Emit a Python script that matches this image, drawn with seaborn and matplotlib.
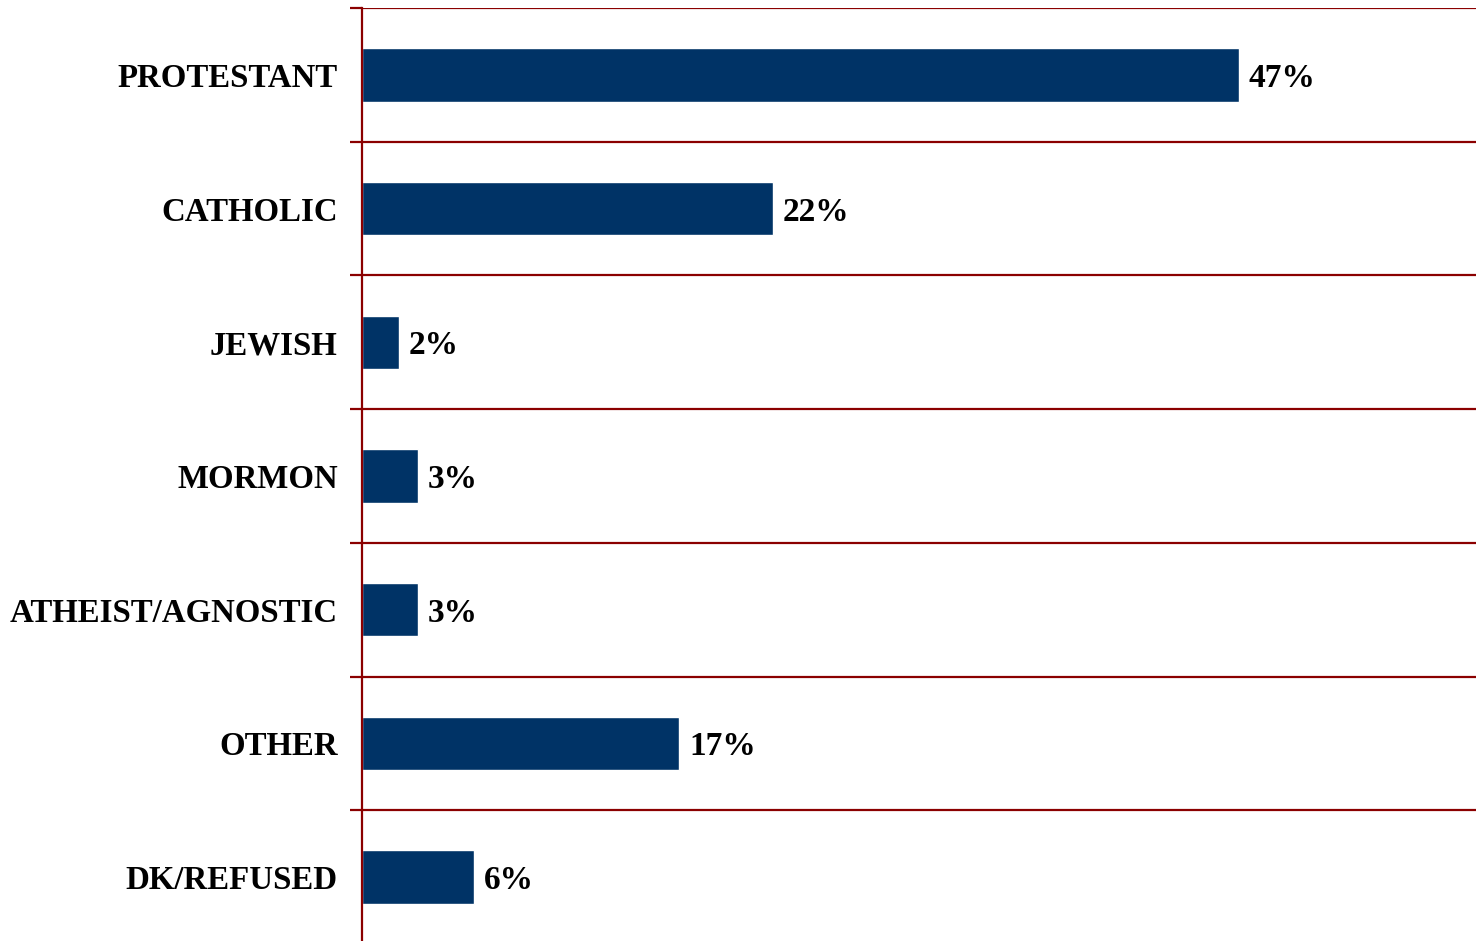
import matplotlib
matplotlib.use("Agg")
import matplotlib.pyplot as plt
import seaborn as sns
import pandas as pd
import numpy as np

categories = ['PROTESTANT', 'CATHOLIC', 'JEWISH', 'MORMON',
              'ATHEIST/AGNOSTIC', 'OTHER', 'DK/REFUSED']
values = [47, 22, 2, 3, 3, 17, 6]

df = pd.DataFrame({'religion': categories, 'pct': values})

sns.set_style('white')
plt.rcParams['font.family'] = ['Liberation Serif', 'DejaVu Serif']
plt.rcParams['font.weight'] = 'bold'

navy = '#003366'
red = '#8B0000'

fig = plt.figure(figsize=(14.76, 9.41), dpi=100)
# axes placed in figure fraction so the bands line up with the reference
ax = fig.add_axes([362 / 1476, -3 / 941, 1114 / 1476, 936 / 941])

sns.barplot(data=df, x='pct', y='religion', color=navy, width=0.4,
            saturation=1, ax=ax, orient='h')

ax.set_xlim(0, 59.7)
ax.set_ylim(len(categories) - 0.5, -0.5)
ax.set_xlabel('')
ax.set_ylabel('')
ax.set_xticks([])

# band separators as minor ticks + gridlines
ax.set_yticks(np.arange(-0.5, len(categories), 1), minor=True)
ax.grid(True, which='minor', axis='y', color=red, linewidth=1.6)
ax.grid(False, which='major')
ax.tick_params(axis='y', which='minor', length=8.5, width=1.6, color=red, left=True)
ax.tick_params(axis='y', which='major', length=0, pad=17.5)
for lbl in ax.get_yticklabels():
    lbl.set_fontsize(23.7)
    lbl.set_fontweight('bold')
    lbl.set_color('black')

for s in ['top', 'right', 'bottom']:
    ax.spines[s].set_visible(False)
ax.spines['left'].set_color(red)
ax.spines['left'].set_linewidth(1.6)

for cont in ax.containers:
    labels = ax.bar_label(cont, labels=[f'{v}%' for v in values], padding=7,
                          fontsize=24, fontweight='bold', color='black')
    for t in labels:
        t.set_va('center_baseline')

fig.savefig('out.png', dpi=100, facecolor='white')
